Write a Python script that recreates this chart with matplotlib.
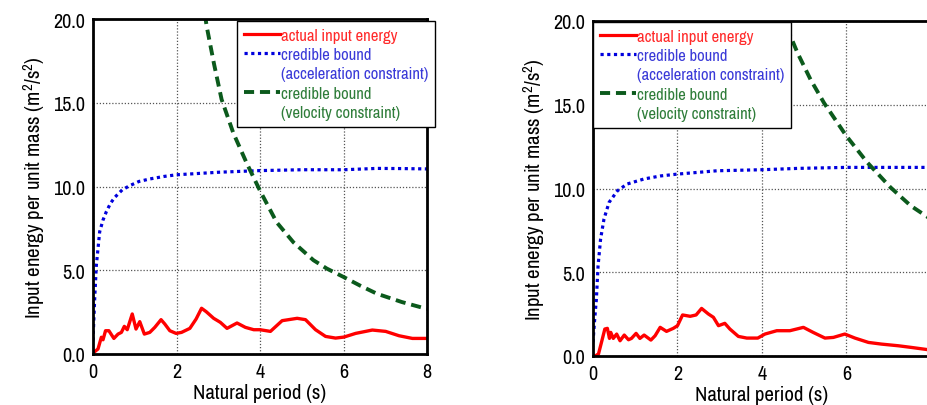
import matplotlib
matplotlib.use("Agg")
import matplotlib.pyplot as plt
from matplotlib.lines import Line2D

FONT = ['Liberation Sans Narrow', 'Archivo Narrow', 'Liberation Sans', 'DejaVu Sans']
plt.rcParams['font.family'] = FONT
plt.rcParams['mathtext.default'] = 'regular'

# ---------- Left panel data ----------
L_red_T = [0.0, 0.02, 0.12, 0.20, 0.24, 0.30, 0.38, 0.50, 0.60, 0.68, 0.75, 0.82, 0.94, 1.03, 1.12,
           1.23, 1.36, 1.48, 1.63, 1.72, 1.84, 1.99, 2.12, 2.32, 2.47, 2.60, 2.71, 2.89, 3.05,
           3.21, 3.33, 3.45, 3.65, 3.85, 4.00, 4.25, 4.53, 4.89, 5.09, 5.33, 5.57, 5.81, 6.01,
           6.29, 6.69, 7.01, 7.33, 7.65, 8.00]
L_red_E = [0.0, 0.1, 0.3, 1.0, 0.85, 1.39, 1.39, 0.93, 1.19, 1.29, 1.65, 1.45, 2.39, 1.49, 1.93,
           1.19, 1.29, 1.59, 2.05, 1.79, 1.39, 1.23, 1.29, 1.53, 2.09, 2.73, 2.53, 2.13, 1.89,
           1.53, 1.69, 1.85, 1.59, 1.45, 1.45, 1.35, 1.99, 2.13, 2.05, 1.45, 1.05, 0.95, 1.01,
           1.23, 1.43, 1.35, 1.09, 0.93, 0.93]
L_blue_T = [0.0, 0.04, 0.08, 0.12, 0.16, 0.24, 0.32, 0.42, 0.52, 0.70, 0.88, 1.10, 1.36, 1.70,
            2.0, 3.0, 4.0, 5.0, 6.0, 6.8, 7.4, 8.0]
L_blue_E = [0.8, 3.3, 5.3, 6.3, 7.3, 8.0, 8.5, 9.0, 9.35, 9.8, 10.05, 10.3, 10.45, 10.6,
            10.7, 10.85, 10.95, 11.0, 11.0, 11.08, 11.07, 11.05]
L_green_T = [2.68, 2.72, 2.90, 3.08, 3.36, 3.68, 4.00, 4.40, 4.80, 5.28, 5.60, 6.00, 6.40, 6.80, 7.40, 8.00]
L_green_E = [20.3, 19.6, 17.3, 15.2, 13.2, 11.4, 9.75, 7.86, 6.67, 5.6, 5.1, 4.6, 4.08, 3.6, 3.1, 2.69]

# ---------- Right panel data ----------
R_red_T = [0.0, 0.05, 0.13, 0.21, 0.28, 0.34, 0.39, 0.42, 0.48, 0.56, 0.64, 0.74, 0.84, 0.91, 1.02,
           1.11, 1.21, 1.37, 1.47, 1.59, 1.74, 1.90, 2.00, 2.12, 2.30, 2.44, 2.57, 2.73, 2.85,
           2.97, 3.12, 3.24, 3.44, 3.64, 3.90, 4.07, 4.35, 4.66, 4.98, 5.21, 5.49, 5.69, 5.96,
           6.20, 6.52, 6.83, 7.23, 7.54, 7.95]
R_red_E = [0.0, 0.0, 0.12, 0.91, 1.61, 1.65, 1.05, 1.41, 1.05, 1.31, 0.91, 1.25, 0.97, 1.05, 1.35,
           1.05, 1.25, 0.95, 1.21, 1.71, 1.47, 1.65, 1.81, 2.45, 2.37, 2.45, 2.84, 2.51, 2.31,
           1.81, 1.95, 1.61, 1.17, 1.07, 1.07, 1.31, 1.51, 1.51, 1.71, 1.41, 1.07, 1.11, 1.31,
           1.07, 0.81, 0.71, 0.61, 0.51, 0.37]
R_blue_T = [0.0, 0.04, 0.08, 0.12, 0.18, 0.26, 0.38, 0.58, 0.81, 1.21, 1.60, 2.0, 2.94, 3.99,
            4.84, 5.99, 7.2, 8.0]
R_blue_E = [0.82, 2.2, 3.4, 5.39, 6.99, 8.18, 9.17, 9.87, 10.27, 10.57, 10.75, 10.86, 11.06, 11.12,
            11.2, 11.26, 11.26, 11.26]
R_green_T = [4.50, 4.64, 4.84, 5.15, 5.47, 5.99, 6.49, 7.04, 7.52, 7.93, 8.10]
R_green_E = [20.6, 19.3, 18.1, 16.5, 15.1, 13.16, 11.56, 10.07, 8.97, 8.28, 8.0]

xticks = [0, 2, 4, 6, 8]
yticks = [0, 5, 10, 15, 20]
xlabel = 'Natural period (s)'
ylabel = 'Input energy per unit mass (m$^2$/s$^2$)'
lab_red = 'actual input energy'
lab_cb = 'credible bound'
lab_acc = '(acceleration constraint)'
lab_vel = '(velocity constraint)'

RED = '#ff0000'
BLUE = '#0000dd'
GREEN = '#0b5a1c'
RED_T = '#ff2a2a'
BLUE_T = '#3a3ad8'
GREEN_T = '#2f7d3a'

fig = plt.figure(figsize=(9.28, 4.06), dpi=100)
ax1 = fig.add_axes([93/928, 1-355/406, (427-93)/928, (355-20)/406])
ax2 = fig.add_axes([593/928, 1-357/406, (931-593)/928, (357-22)/406])

BLUE_LS = (0, (1, 1.1))
GREEN_LS = (0, (2.6, 1.5))


def draw(ax, rT, rE, bT, bE, gT, gE, leg_xy):
    ax.plot(rT, rE, color=RED, lw=2.4, solid_joinstyle='round', solid_capstyle='round', zorder=3)
    ax.plot(bT, bE, color=BLUE, lw=2.3, linestyle=BLUE_LS, zorder=3)
    ax.plot(gT, gE, color=GREEN, lw=2.8, linestyle=GREEN_LS, zorder=3)
    ax.set_xlim(0, 8)
    ax.set_ylim(0, 20)
    ax.set_xticks(xticks)
    ax.set_yticks(yticks)
    ax.set_yticklabels([f'{v:.1f}' for v in yticks])
    ax.grid(True, color='#555555', linestyle=(0, (1, 1.5)), lw=0.9)
    ax.tick_params(length=0, labelsize=14.5, pad=6)
    for s in ax.spines.values():
        s.set_linewidth(2.0)
        s.set_zorder(5)
    ax.set_xlabel(xlabel, fontsize=15, labelpad=1)
    ax.set_ylabel(ylabel, fontsize=15, labelpad=4)
    handles = [
        Line2D([], [], color=RED, lw=2.3),
        Line2D([], [], color=BLUE, lw=2.3, linestyle=BLUE_LS),
        Line2D([], [], color='none'),
        Line2D([], [], color=GREEN, lw=2.8, linestyle=GREEN_LS),
        Line2D([], [], color='none'),
    ]
    labels = [lab_red, lab_cb, lab_acc, lab_cb, lab_vel]
    tcol = [RED_T, BLUE_T, BLUE_T, GREEN_T, GREEN_T]
    leg = ax.legend(handles, labels, loc='upper left', bbox_to_anchor=leg_xy,
                    bbox_transform=fig.transFigure, fontsize=12, handlelength=2.2,
                    handletextpad=0.05, labelspacing=0.26, borderpad=0.4,
                    borderaxespad=0, fancybox=False, framealpha=1,
                    edgecolor='black')
    leg.get_frame().set_linewidth(1.0)
    leg.set_zorder(6)
    for t, c in zip(leg.get_texts(), tcol):
        t.set_color(c)


draw(ax1, L_red_T, L_red_E, L_blue_T, L_blue_E, L_green_T, L_green_E, (237/928, 1-22/406))
draw(ax2, R_red_T, R_red_E, R_blue_T, R_blue_E, R_green_T, R_green_E, (593/928, 1-23/406))

fig.savefig('out.png', dpi=100)
